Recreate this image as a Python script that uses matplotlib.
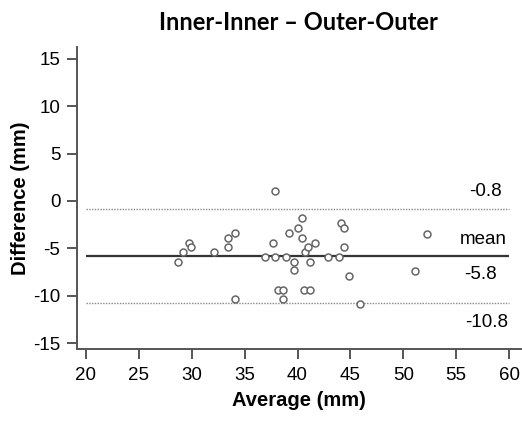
import matplotlib
matplotlib.use("Agg")
import matplotlib.pyplot as plt

# datos
avg = [28.7, 29.2, 29.7, 29.9, 32.1, 33.4, 33.4, 34.1, 34.1, 36.9,
       37.65, 37.9, 37.9, 38.15, 38.6, 38.6, 38.9, 39.2, 39.65, 39.65,
       40.0, 40.45, 40.45, 40.7, 40.95, 41.2, 40.65, 41.15, 41.7, 42.9,
       43.9, 44.1, 44.4, 44.4, 44.9, 45.9, 51.1, 52.2]
diff = [-6.4, -5.35, -4.4, -4.9, -5.35, -3.9, -4.9, -3.4, -10.4, -5.9,
        -4.4, 1.1, -5.9, -9.35, -9.35, -10.4, -5.9, -3.4, -6.4, -7.3,
        -2.9, -1.8, -3.9, -5.4, -4.9, -6.4, -9.35, -9.35, -4.4, -5.9,
        -5.9, -2.35, -2.9, -4.9, -7.9, -10.85, -7.35, -3.45]

mean_diff = -5.8
upper = -0.8
lower = -10.8
xticks = [20, 25, 30, 35, 40, 45, 50, 55, 60]
yticks = [-15, -10, -5, 0, 5, 10, 15]

plt.rcParams['font.family'] = ['Liberation Sans', 'DejaVu Sans']
plt.rcParams['axes.unicode_minus'] = False

fig = plt.figure(figsize=(5.22, 4.21), dpi=100)
ax = fig.add_axes([77/522, 72/421, 444/522, 302/421])

ax.set_xlim(19.15, 61.13)
ax.set_ylim(-15.63, 16.26)

spine_col = '#555555'
ax.hlines(upper, 20, 60, colors='#888888', linestyles=(0, (1, 1)), linewidth=1.0)
ax.hlines(lower, 20, 60, colors='#888888', linestyles=(0, (1, 1)), linewidth=1.0)
ax.hlines(mean_diff, 20, 60, colors='#333333', linewidth=1.6)

ax.plot(avg, diff, 'o', markersize=5, markerfacecolor='white',
        markeredgecolor='#666666', markeredgewidth=1.1, linestyle='none')

ax.text(59.34, 0.95, '-0.8', ha='right', va='center', fontsize=13.5)
ax.text(59.8, -4.12, 'mean', ha='right', va='center', fontsize=13.5)
ax.text(58.87, -7.81, '-5.8', ha='right', va='center', fontsize=13.5)
ax.text(59.9, -12.78, '-10.8', ha='right', va='center', fontsize=13.5)

for s in ['top', 'right']:
  ax.spines[s].set_visible(False)
for s in ['left', 'bottom']:
  ax.spines[s].set_color(spine_col)
  ax.spines[s].set_linewidth(1.4)

ax.set_xticks(xticks)
ax.set_yticks(yticks)
ax.tick_params(axis='both', colors=spine_col, labelcolor='black',
               labelsize=13.5, length=7, width=1.4)
ax.tick_params(axis='x', pad=6)
ax.tick_params(axis='y', pad=5)

ax.set_xlabel('Average (mm)', fontsize=14.5, fontweight='bold', labelpad=5)
ax.set_ylabel('Difference (mm)', fontsize=14.5, fontweight='bold', labelpad=2)

fig.text(298/522, 1 - 22/421, 'Inner-Inner \u2013 Outer-Outer', ha='center', va='center',
         fontsize=17, fontweight='bold', family=['Lato', 'DejaVu Sans'])

plt.savefig('out.png', dpi=100)
